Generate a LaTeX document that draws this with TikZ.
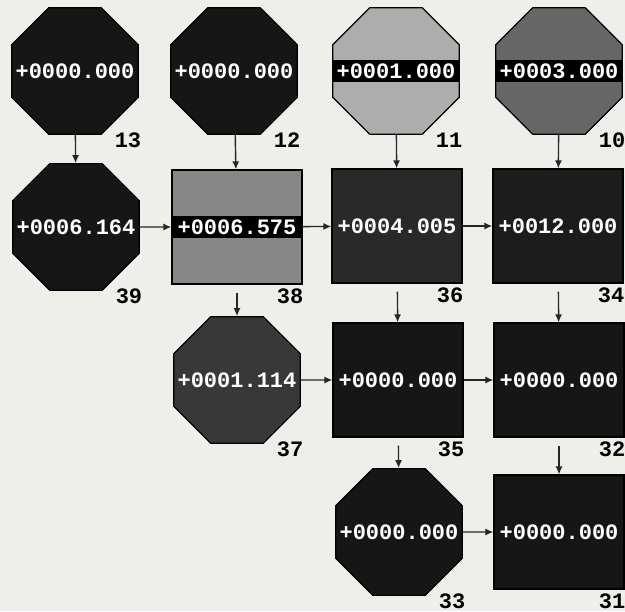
\documentclass[tikz,border=0pt]{standalone}
\usepackage{fontspec}
\newfontfamily\valfont{Liberation Mono}
\usetikzlibrary{positioning,arrows.meta,shapes.geometric}
\definecolor{paper}{RGB}{238,238,234}
\definecolor{ink}{RGB}{22,22,22}
\newcommand{\val}[1]{\makebox[0pt]{#1}}

\begin{document}
\begin{tikzpicture}[x=0.5pt, y=-0.5pt,
  cell/.style={draw=black, line width=0.6pt, fill=ink, text=white, inner sep=0pt,
    font=\valfont\bfseries\fontsize{11}{11}\selectfont},
  oct/.style={cell, regular polygon, regular polygon sides=8, minimum size=68.5pt},
  box/.style={cell, rectangle, minimum width=65pt, minimum height=57pt},
  band/.style={path picture={\fill[black] ([yshift=-5.5pt]path picture bounding box.west)
    rectangle ([yshift=5.5pt]path picture bounding box.east);}},
  lbl/.style={inner sep=0pt, font=\valfont\bfseries\fontsize{11}{11}\selectfont},
  flow/.style={-{Latex[length=4pt,width=3.5pt]}, line width=0.7pt, black!85}]
\useasboundingbox[fill=paper] (0,0) rectangle (625,611);
\node[oct] (n13) at (75,71) {\val{+0000.000}};
\node[oct] (n12) at (234,71) {\val{+0000.000}};
\node[oct, fill=black!32, band] (n11) at (396,71) {\val{+0001.000}};
\node[oct, fill=black!60, band] (n10) at (559,71) {\val{+0003.000}};
\node[oct] (n39) at (76,227) {\val{+0006.164}};
\node[box, fill=black!47, band] (n38) at (237,227) {+0006.575};
\node[box, fill=black!84] (n36) at (397,226) {+0004.005};
\node[box, fill=black!89] (n34) at (558,226) {+0012.000};
\node[oct, fill=black!78] (n37) at (237,380) {\val{+0001.114}};
\node[box] (n35) at (398,380) {+0000.000};
\node[box] (n32) at (559,380) {+0000.000};
\node[oct] (n33) at (399,532) {\val{+0000.000}};
\node[box] (n31) at (559,532) {+0000.000};
\foreach \n in {13,12,11,10,39,38,36,34,37,35,32,33,31}
  \node[lbl] (l\n) at ([shift={(53,69)}]n\n.center) {\n};
\foreach \a/\b in {n13/n39,n12/n38,n11/n36,n10/n34}
  \draw[flow] (\a) -- (\b);
\foreach \a/\b in {n38/n37,n36/n35,n34/n32,n35/n33,n32/n31}
  \draw[flow, shorten <=4pt] (\a) -- (\b);
\foreach \a/\b in {n39/n38,n38/n36,n36/n34,n37/n35,n35/n32,n33/n31}
  \draw[flow] (\a) -- (\b);
\end{tikzpicture}
\end{document}
